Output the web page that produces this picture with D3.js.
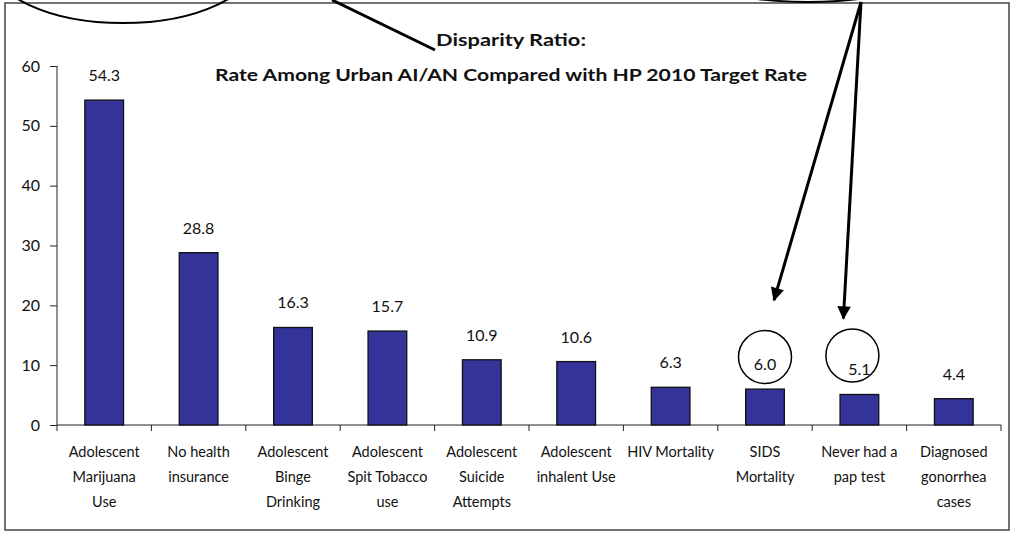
<!DOCTYPE html>
<meta charset="utf-8" />
<html>
<head>
  <style>
    body { margin: 0; background: #fff; }
    svg text { font-family: "Lato", "Open Sans", sans-serif; fill: #111; }
    .domain { stroke: #222; }
    g.tick line { stroke: #222; }
  </style>
</head>
<script src="https://d3js.org/d3.v7.min.js"></script>
<body>
  <svg id="chart"></svg>
  <script>
    // data
    const categories = [
      "Adolescent|Marijuana|Use",
      "No health|insurance",
      "Adolescent|Binge|Drinking",
      "Adolescent|Spit Tobacco|use",
      "Adolescent|Suicide|Attempts",
      "Adolescent|inhalent Use",
      "HIV Mortality",
      "SIDS|Mortality",
      "Never had a|pap test",
      "Diagnosed|gonorrhea|cases",
    ];
    const values = [54.3, 28.8, 16.3, 15.7, 10.9, 10.6, 6.3, 6.0, 5.1, 4.4];
    const yTicks = [0, 10, 20, 30, 40, 50, 60];
    const circled = ["SIDS|Mortality", "Never had a|pap test"];
    const titleLines = [
      "Disparity Ratio:",
      "Rate Among Urban AI/AN Compared with HP 2010 Target Rate",
    ];

    const svgWidth = 1013;
    const svgHeight = 533;
    const margin = { left: 57, right: 12, top: 66, bottom: 108 };
    const width = svgWidth - margin.left - margin.right;
    const height = svgHeight - margin.top - margin.bottom;

    const svg = d3.select("#chart")
      .attr("width", svgWidth)
      .attr("height", svgHeight);

    // outer frame
    svg.append("rect")
      .attr("x", 5).attr("y", 3)
      .attr("width", 1004).attr("height", 527)
      .attr("fill", "none")
      .attr("stroke", "#444")
      .attr("stroke-width", 1.5);

    const g = svg.append("g")
      .attr("transform", `translate(${margin.left},${margin.top})`);

    const x = d3.scaleBand().domain(categories).range([0, width]).padding(0);
    const y = d3.scaleLinear().domain([0, 60]).range([height, 0]);
    const barW = x.bandwidth() * 0.41;

    // y axis
    const yAxis = g.append("g")
      .call(d3.axisLeft(y).tickValues(yTicks).tickSize(7).tickPadding(10));
    yAxis.selectAll("text").attr("font-size", 16).attr("fill", "#111");
    yAxis.select(".domain").attr("d", `M0,${height}V0`);

    // x axis: ticks at band boundaries
    const xAxis = g.append("g").attr("transform", `translate(0,${height})`);
    xAxis.append("line")
      .attr("x1", 0).attr("x2", width)
      .attr("stroke", "#222");
    xAxis.selectAll("line.tk")
      .data(d3.range(categories.length + 1))
      .join("line")
      .attr("class", "tk")
      .attr("x1", (i) => i * x.step())
      .attr("x2", (i) => i * x.step())
      .attr("y1", 0).attr("y2", 6)
      .attr("stroke", "#222");

    // category labels
    const labels = xAxis.selectAll("text.cat")
      .data(categories)
      .join("text")
      .attr("class", "cat")
      .attr("text-anchor", "middle")
      .attr("font-size", 14.5)
      .attr("x", (d) => x(d) + x.bandwidth() / 2);
    labels.selectAll("tspan")
      .data((d) => d.split("|"))
      .join("tspan")
      .attr("x", function () { return d3.select(this.parentNode).attr("x"); })
      .attr("y", (d, i) => 32 + i * 25)
      .text((d) => d);

    // bars
    g.selectAll("rect.bar")
      .data(values)
      .join("rect")
      .attr("class", "bar")
      .attr("x", (d, i) => x(categories[i]) + (x.bandwidth() - barW) / 2)
      .attr("y", (d) => y(d))
      .attr("width", barW)
      .attr("height", (d) => height - y(d))
      .attr("fill", "#333399")
      .attr("stroke", "#111")
      .attr("stroke-width", 1.3);

    // value labels
    g.selectAll("text.val")
      .data(values)
      .join("text")
      .attr("class", "val")
      .attr("text-anchor", "middle")
      .attr("font-size", 16)
      .attr("x", (d, i) => x(categories[i]) + x.bandwidth() / 2)
      .attr("y", (d) => y(d) - 19)
      .text((d) => d.toFixed(1));

    // title, stretched to the width of the original bold face
    const titleWidths = [150, 592];
    svg.selectAll("text.title")
      .data(titleLines)
      .join("text")
      .attr("class", "title")
      .attr("text-anchor", "middle")
      .attr("font-weight", 700)
      .attr("font-size", 17)
      .attr("x", 511)
      .attr("y", (d, i) => (i === 0 ? 46 : 81))
      .attr("textLength", (d, i) => titleWidths[i])
      .attr("lengthAdjust", "spacingAndGlyphs")
      .text((d) => d);

    ////////////////////////////////////
    ///////////// Annotations //////////
    ////////////////////////////////////

    svg.append("defs").append("marker")
      .attr("id", "arrow")
      .attr("viewBox", "0 0 10 10")
      .attr("refX", 9).attr("refY", 5)
      .attr("markerWidth", 5).attr("markerHeight", 4.5)
      .attr("orient", "auto")
      .append("path")
      .attr("d", "M0,0L10,5L0,10z")
      .attr("fill", "#000");

    // ellipses cut off at the top of the frame
    svg.append("ellipse")
      .attr("cx", 123).attr("cy", -40)
      .attr("rx", 134).attr("ry", 63)
      .attr("fill", "none").attr("stroke", "#000").attr("stroke-width", 2);
    svg.append("ellipse")
      .attr("cx", 808).attr("cy", -60)
      .attr("rx", 160).attr("ry", 62)
      .attr("fill", "none").attr("stroke", "#000").attr("stroke-width", 2);

    // line to the title
    svg.append("line")
      .attr("x1", 332).attr("y1", 0)
      .attr("x2", 435).attr("y2", 50)
      .attr("stroke", "#000").attr("stroke-width", 3);

    // circles round two labels and arrows pointing at them
    const circleShift = [[0, -32, 9, -57], [-7, -39, -9, -37]];
    circled.forEach((c, k) => {
      const i = categories.indexOf(c);
      const [dx, dy, ax, ay] = circleShift[k];
      const cx = margin.left + x(c) + x.bandwidth() / 2 + dx;
      const cy = margin.top + y(values[i]) + dy;
      svg.append("circle")
        .attr("cx", cx).attr("cy", cy).attr("r", 26.5)
        .attr("fill", "none").attr("stroke", "#000").attr("stroke-width", 1.5);
      svg.append("line")
        .attr("x1", 861).attr("y1", 2)
        .attr("x2", cx + ax)
        .attr("y2", cy + ay)
        .attr("stroke", "#000").attr("stroke-width", 3)
        .attr("marker-end", "url(#arrow)");
    });
  </script>
</body>
</html>
